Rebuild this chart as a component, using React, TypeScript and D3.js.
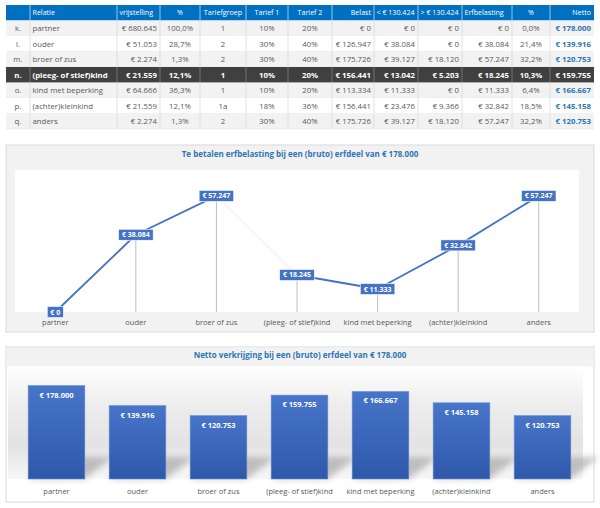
import * as d3 from 'd3';

// ---- data ----
const letters = ['k.', 'l.', 'm.', 'n.', 'o.', 'p.', 'q.'];
const relaties = [
  'partner',
  'ouder',
  'broer of zus',
  '(pleeg- of stief)kind',
  'kind met beperking',
  '(achter)kleinkind',
  'anders',
];
const vrijstelling = [680645, 51053, 2274, 21559, 64666, 21559, 2274];
const vrijPct = [100.0, 28.7, 1.3, 12.1, 36.3, 12.1, 1.3];
const tariefgroep = ['1', '2', '2', '1', '1', '1a', '2'];
const tarief1 = [10, 30, 30, 10, 10, 18, 30];
const tarief2 = [20, 40, 40, 20, 20, 36, 40];
const belast = [0, 126947, 175726, 156441, 113334, 156441, 175726];
const onderGrens = [0, 38084, 39127, 13042, 11333, 23476, 39127];
const bovenGrens = [0, 0, 18120, 5203, 0, 9366, 18120];
const erfbelasting = [0, 38084, 57247, 18245, 11333, 32842, 57247];
const erfPct = [0.0, 21.4, 32.2, 10.3, 6.4, 18.5, 32.2];
const netto = [178000, 139916, 120753, 159755, 166667, 145158, 120753];
const headers = ['', 'Relatie', 'vrijstelling', '%', 'Tariefgroep', 'Tarief 1', 'Tarief 2', 'Belast', '< € 130.424', '> € 130.424', 'Erfbelasting', '%', 'Netto'];
const selectedRow = 3;
const erfdeel = 178000;

const nl = d3.formatLocale({ decimal: ',', thousands: '.', grouping: [3], currency: ['€ ', ''] });
const eur = (v: number) => '€ ' + nl.format(',.0f')(v);
const pct1 = (v: number) => nl.format('.1f')(v) + '%';

const FONT = '"Open Sans", "Noto Sans", sans-serif';
const BLUE = '#4472C4';
const TITLE = '#2E75B6';
const GRAY_TXT = '#595959';

// table layout
const colEdges = [6, 30, 117, 160, 200, 246, 288, 332, 374, 418, 462, 512, 550, 594];
const headAlign = ['middle', 'start', 'start', 'middle', 'middle', 'middle', 'middle', 'end', 'start', 'start', 'start', 'middle', 'end'];
const cellAlign = ['middle', 'start', 'end', 'middle', 'middle', 'middle', 'middle', 'end', 'end', 'end', 'end', 'middle', 'end'];
const tableTop = 5;
const rowH = 15.5;

function Table() {
  const rows = relaties.map((r, i) => [
    letters[i],
    r,
    eur(vrijstelling[i]),
    pct1(vrijPct[i]),
    tariefgroep[i],
    tarief1[i] + '%',
    tarief2[i] + '%',
    eur(belast[i]),
    eur(onderGrens[i]),
    eur(bovenGrens[i]),
    eur(erfbelasting[i]),
    pct1(erfPct[i]),
    eur(netto[i]),
  ]);
  const tx = (c: number, align: string) =>
    align === 'start' ? colEdges[c] + 2.5 : align === 'end' ? colEdges[c + 1] - 3 : (colEdges[c] + colEdges[c + 1]) / 2;
  return (
    <g fontFamily={FONT} fontSize={7.8}>
      <rect x={colEdges[0]} y={tableTop} width={colEdges[13] - colEdges[0]} height={rowH} fill="#0070C0" />
      {headers.map((h, c) => (
        <text key={c} x={tx(c, headAlign[c])} y={tableTop + rowH / 2 + 2.6} textAnchor={headAlign[c]} fill="#fff" fontSize={7.1}>
          {h}
        </text>
      ))}
      {colEdges.slice(1, 13).map((x, c) => (
        <line key={c} x1={x} x2={x} y1={tableTop} y2={tableTop + rowH} stroke="#fff" strokeOpacity={0.6} />
      ))}
      {rows.map((row, i) => {
        const y = tableTop + rowH * (i + 1);
        const sel = i === selectedRow;
        const bg = sel ? '#404040' : i % 2 === 0 ? '#F2F2F2' : '#FFFFFF';
        return (
          <g key={i}>
            <rect x={colEdges[0]} y={y} width={colEdges[13] - colEdges[0]} height={rowH} fill={bg} />
            <line x1={colEdges[0]} x2={colEdges[13]} y1={y + rowH} y2={y + rowH} stroke={sel ? '#404040' : '#e6e6e6'} strokeWidth={0.6} />
            {colEdges.slice(1, 13).map((x, c) => (
              <line key={c} x1={x} x2={x} y1={y} y2={y + rowH} stroke={sel ? '#7f7f7f' : '#d9d9d9'} strokeWidth={0.8} />
            ))}
            {row.map((v, c) => (
              <text
                key={c}
                x={tx(c, cellAlign[c])}
                y={y + rowH / 2 + 2.8}
                textAnchor={cellAlign[c]}
                fill={sel ? '#fff' : c === 12 ? TITLE : GRAY_TXT}
                fontWeight={sel || c === 12 ? 'bold' : 'normal'}
              >
                {v}
              </text>
            ))}
          </g>
        );
      })}
    </g>
  );
}

function LineChart() {
  const panel = { x: 6, y: 145, w: 588, h: 187 };
  const plot = { x0: 15, x1: 579, y0: 170, y1: 312 };
  const x = d3.scaleBand<string>().domain(relaties).range([plot.x0, plot.x1]);
  const y = d3.scaleLinear().domain([0, 70000]).range([plot.y1, plot.y0]);
  const px = (i: number) => x(relaties[i])! + x.bandwidth() / 2;
  const pts = erfbelasting.map((v, i) => [px(i), y(v)] as [number, number]);
  const line = d3.line();
  return (
    <g fontFamily={FONT}>
      <rect x={panel.x} y={panel.y} width={panel.w} height={panel.h} fill="#F2F2F2" stroke="#D9D9D9" />
      <text x={300} y={157} textAnchor="middle" fontSize={8} fontWeight="bold" fill={TITLE}>
        Te betalen erfbelasting bij een (bruto) erfdeel van {eur(erfdeel)}
      </text>
      <rect x={plot.x0} y={plot.y0} width={plot.x1 - plot.x0} height={plot.y1 - plot.y0} fill="#fff" />
      {pts.map((p, i) => (
        <line key={i} x1={p[0]} x2={p[0]} y1={p[1]} y2={plot.y1} stroke="#BFBFBF" strokeWidth={1} />
      ))}
      {pts.slice(1).map((p, k) => (
        <path
          key={k}
          d={line([pts[k], p])!}
          fill="none"
          stroke={k + 1 === selectedRow ? '#F4F4F4' : BLUE}
          strokeWidth={1.8}
        />
      ))}
      {erfbelasting.map((v, i) => {
        const t = eur(v);
        const w = t.length * 3.7 + 5;
        return (
          <g key={i}>
            <rect x={pts[i][0] - w / 2} y={pts[i][1] - 5.5} width={w} height={11} fill={BLUE} stroke="#fff" strokeWidth={0.6} />
            <text x={pts[i][0]} y={pts[i][1] + 2.5} textAnchor="middle" fontSize={7} fontWeight="bold" fill="#fff">
              {t}
            </text>
          </g>
        );
      })}
      {relaties.map((r, i) => (
        <text key={r} x={px(i)} y={325} textAnchor="middle" fontSize={7.5} fill={GRAY_TXT}>
          {r}
        </text>
      ))}
    </g>
  );
}

function BarChart() {
  const panel = { x: 6, y: 347, w: 588, h: 155 };
  const plot = { x0: 16, x1: 583, y0: 366, y1: 479 };
  const x = d3.scaleBand<string>().domain(relaties).range([plot.x0, plot.x1]).paddingInner(0.3).paddingOuter(0.15);
  const y = d3.scaleLinear().domain([0, 200000]).range([plot.y1, 374]);
  return (
    <g fontFamily={FONT}>
      <defs>
        <linearGradient id="floor" x1="0" y1="0" x2="0" y2="1">
          <stop offset="0" stopColor="#ffffff" />
          <stop offset="0.35" stopColor="#ededed" />
          <stop offset="0.7" stopColor="#e3e3e3" />
          <stop offset="1" stopColor="#f7f7f7" />
        </linearGradient>
        <linearGradient id="barFill" x1="0" y1="0" x2="0" y2="1">
          <stop offset="0" stopColor="#4775C9" />
          <stop offset="1" stopColor="#2F58AA" />
        </linearGradient>
        <filter id="blur" x="-50%" y="-50%" width="200%" height="200%">
          <feGaussianBlur stdDeviation="3" />
        </filter>
      </defs>
      <rect x={panel.x} y={panel.y} width={panel.w} height={panel.h} fill="#fff" stroke="#D9D9D9" />
      <rect x={panel.x + 0.5} y={panel.y + 0.5} width={panel.w - 1} height={plot.y0 - panel.y} fill="#F2F2F2" />
      <rect x={8} y={plot.y0} width={583 - 8} height={plot.y1 - plot.y0} fill="url(#floor)" />
      <text x={300} y={358} textAnchor="middle" fontSize={8} fontWeight="bold" fill={TITLE}>
        Netto verkrijging bij een (bruto) erfdeel van {eur(erfdeel)}
      </text>
      {netto.map((v, i) => {
        const x0 = x(relaties[i])!;
        const x1 = x0 + x.bandwidth();
        const b = y(0);
        const d = `M${x0},${b} L${x1},${b} L${x1 + 28},${b - 22} L${x0 + 28},${b - 22} Z`;
        return <path key={i} d={d} fill="#8c8c8c" opacity={0.5} filter="url(#blur)" />;
      })}
      {netto.map((v, i) => (
        <g key={i}>
          <rect
            x={x(relaties[i])!}
            y={y(v)}
            width={x.bandwidth()}
            height={y(0) - y(v)}
            fill="url(#barFill)"
            stroke="#6A8FD6"
            strokeWidth={0.6}
          />
          <text
            x={x(relaties[i])! + x.bandwidth() / 2}
            y={y(v) + 12}
            textAnchor="middle"
            fontSize={7.5}
            fontWeight="bold"
            fill="#fff"
          >
            {eur(v)}
          </text>
          <text x={x(relaties[i])! + x.bandwidth() / 2} y={494} textAnchor="middle" fontSize={7.5} fill={GRAY_TXT}>
            {relaties[i]}
          </text>
        </g>
      ))}
    </g>
  );
}

export default function App() {
  return (
    <svg
      width={600}
      height={508}
      viewBox="0 0 600 508"
      style={{ position: 'absolute', left: 0, top: 0, background: '#fff' }}
    >
      <Table />
      <LineChart />
      <BarChart />
    </svg>
  );
}
